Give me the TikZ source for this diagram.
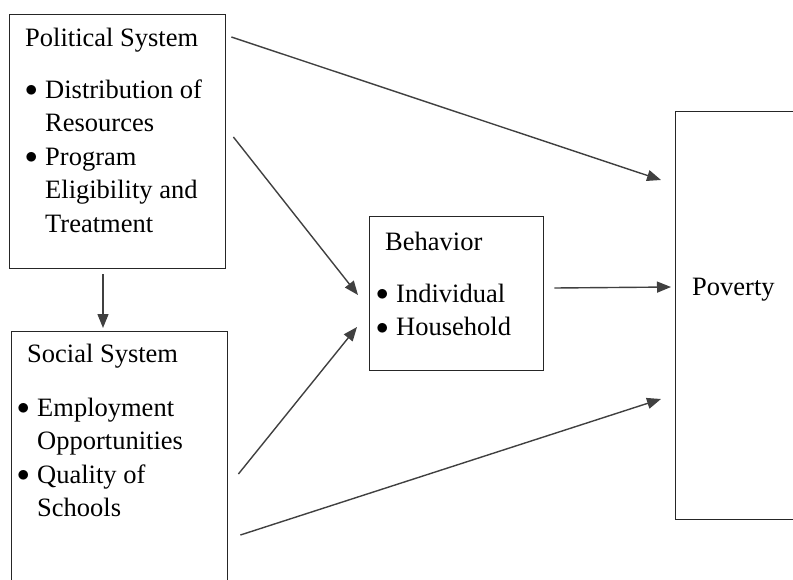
\documentclass[tikz,border=0pt]{standalone}
\usepackage{fontspec}
\setmainfont{Liberation Serif}
\usetikzlibrary{arrows.meta}
\newcommand{\bitem}{\makebox[20pt][l]{\raisebox{1.5pt}{$\bullet$}}}
\newcommand{\bcont}{\hspace*{20pt}}

\begin{document}
\begin{tikzpicture}[x=1pt,y=-1pt]
    \tikzstyle{box} = [draw=black!85, line width=1.4pt, inner sep=0pt, anchor=north west]
    \tikzstyle{txt} = [anchor=north west, inner sep=0pt, align=left, font=\fontsize{26.5}{33.5}\selectfont]
    \tikzstyle{arr} = [draw=black!75, line width=1.4pt, -{Triangle[length=14pt,width=11pt]}]
    \useasboundingbox (0,0) rectangle (793,579);
    \clip (0,0) rectangle (793,579);
    % boxes
    \node[box, minimum width=216pt, minimum height=254pt] (pol) at (9,14) {};
    \node[box, minimum width=216pt, minimum height=270pt] (soc) at (11,331) {};
    \node[box, minimum width=174pt, minimum height=154pt] (beh) at (369,216) {};
    \node[box, minimum width=140pt, minimum height=408pt] (pov) at (675,111) {};
    % texts
    \node[txt] (poltxt) at ([shift={(16,14)}]pol.north west) {
      Political System\\[18pt]
      \bitem Distribution of\\
      \bcont Resources\\
      \bitem Program\\
      \bcont Eligibility and\\
      \bcont Treatment};
    \node[txt] (soctxt) at ([shift={(6,13)}]soc.north west) {
      \hspace*{10pt}Social System\\[20pt]
      \bitem Employment\\
      \bcont Opportunities\\
      \bitem Quality of\\
      \bcont Schools};
    \node[txt] (behtxt) at ([shift={(7,16)}]beh.north west) {
      \hspace*{9pt}Behavior\\[18pt]
      \bitem Individual\\
      \bitem Household};
    \node[txt, anchor=base west] (povtxt) at ([shift={(17,184)}]pov.north west) {Poverty};
    % arrow ends
    \coordinate (a1s) at ([shift={(5,23)}]pol.north east);
    \coordinate (a1e) at ([shift={(-14,69)}]pov.north west);
    \coordinate (a2s) at ([shift={(7,123)}]pol.north east);
    \coordinate (a2e) at ([shift={(-11,79)}]beh.north west);
    \coordinate (a3s) at ([shift={(94,5)}]pol.south west);
    \coordinate (a3e) at ([shift={(92,-3)}]soc.north west);
    \coordinate (a4s) at ([shift={(10,143)}]soc.north east);
    \coordinate (a4e) at ([shift={(-12,111)}]beh.north west);
    \coordinate (a5s) at ([shift={(12,204)}]soc.north east);
    \coordinate (a5e) at ([shift={(-14,288)}]pov.north west);
    \coordinate (a6s) at ([shift={(10,72)}]beh.north east);
    \coordinate (a6e) at ([shift={(-4,176)}]pov.north west);
    % arrows
    \draw[arr] (a1s) -- (a1e);
    \draw[arr] (a2s) -- (a2e);
    \draw[arr] (a3s) -- (a3e);
    \draw[arr] (a4s) -- (a4e);
    \draw[arr] (a5s) -- (a5e);
    \draw[arr] (a6s) -- (a6e);
\end{tikzpicture}
\end{document}
